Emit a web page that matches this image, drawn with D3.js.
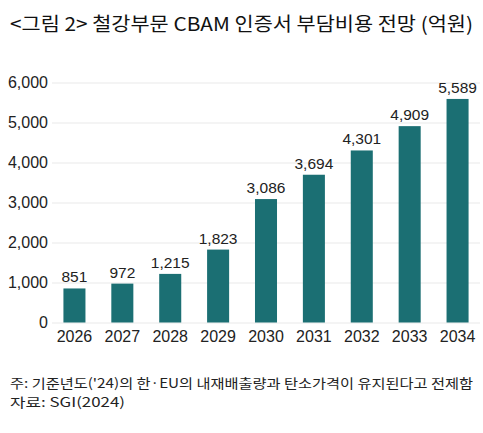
<!DOCTYPE html>
<html><head><meta charset="utf-8">
<script src="https://cdn.jsdelivr.net/npm/d3@7"></script>
<style>body{margin:0;background:#fff}svg{display:block}</style>
</head><body>
<svg id="c" width="483" height="433"></svg>
<script>
const years = ["2026","2027","2028","2029","2030","2031","2032","2033","2034"];
const values = [851, 972, 1215, 1823, 3086, 3694, 4301, 4909, 5589];
const yTicks = [0, 1000, 2000, 3000, 4000, 5000, 6000];
const titleText = "<그림 2> 철강부문 CBAM 인증서 부담비용 전망 (억원)";
const noteLines = ["주: 기준년도('24)의 한·EU의 내재배출량과 탄소가격이 유지된다고 전제함", "자료: SGI(2024)"];

const svg = d3.select("#c");
const KR = "'Noto Sans CJK KR', sans-serif";
const NUM = "'Liberation Sans', Arial, sans-serif";
const barColor = "#1b6f73";

const x = d3.scaleBand().domain(years).range([50.5, 481.5]).paddingInner(0.54).paddingOuter(0.27);
const y = d3.scaleLinear().domain([0, 6000]).range([322.5, 82.5]);

// title
svg.append("text").attr("x", 10).attr("y", 31).attr("font-family", KR).attr("font-size", 19)
  .attr("fill", "#111").attr("textLength", 463).attr("lengthAdjust", "spacingAndGlyphs").text(titleText);

// grid
const yAxis = d3.axisLeft(y).tickValues(yTicks).tickSize(-(480 - 52)).tickFormat(d3.format(","));
const gy = svg.append("g").attr("transform", "translate(52,0)").call(yAxis);
gy.select(".domain").remove();
gy.selectAll(".tick line").attr("stroke", "#e9e9e9").attr("stroke-width", 1);
gy.selectAll(".tick text").attr("x", -4).attr("font-family", NUM).attr("font-size", 16).attr("fill", "#222");

// bars
svg.append("g").selectAll("rect").data(values).join("rect")
  .attr("x", (d, i) => x(years[i])).attr("width", x.bandwidth())
  .attr("y", d => y(d)).attr("height", d => y(0) - y(d)).attr("fill", barColor);

// value labels
svg.append("g").selectAll("text").data(values).join("text")
  .attr("x", (d, i) => x(years[i]) + x.bandwidth() / 2).attr("y", d => y(d) - 6)
  .attr("text-anchor", "middle").attr("font-family", NUM).attr("font-size", 15.5).attr("fill", "#222")
  .text(d => d3.format(",")(d));

// x axis
const gx = svg.append("g").attr("transform", "translate(0,322.5)").call(d3.axisBottom(x).tickSize(0));
gx.select(".domain").remove();
gx.selectAll(".tick text").attr("dy", 0).attr("y", 19.5).attr("font-family", NUM).attr("font-size", 16).attr("fill", "#222");

// notes
svg.append("text").attr("x", 10).attr("y", 388).attr("font-family", KR).attr("font-size", 13).attr("fill", "#222")
  .attr("textLength", 463).attr("lengthAdjust", "spacingAndGlyphs").text(noteLines[0]);
svg.append("text").attr("x", 10).attr("y", 407).attr("font-family", KR).attr("font-size", 13).attr("fill", "#222")
  .attr("textLength", 115).attr("lengthAdjust", "spacingAndGlyphs").text(noteLines[1]);
</script>
</body></html>
